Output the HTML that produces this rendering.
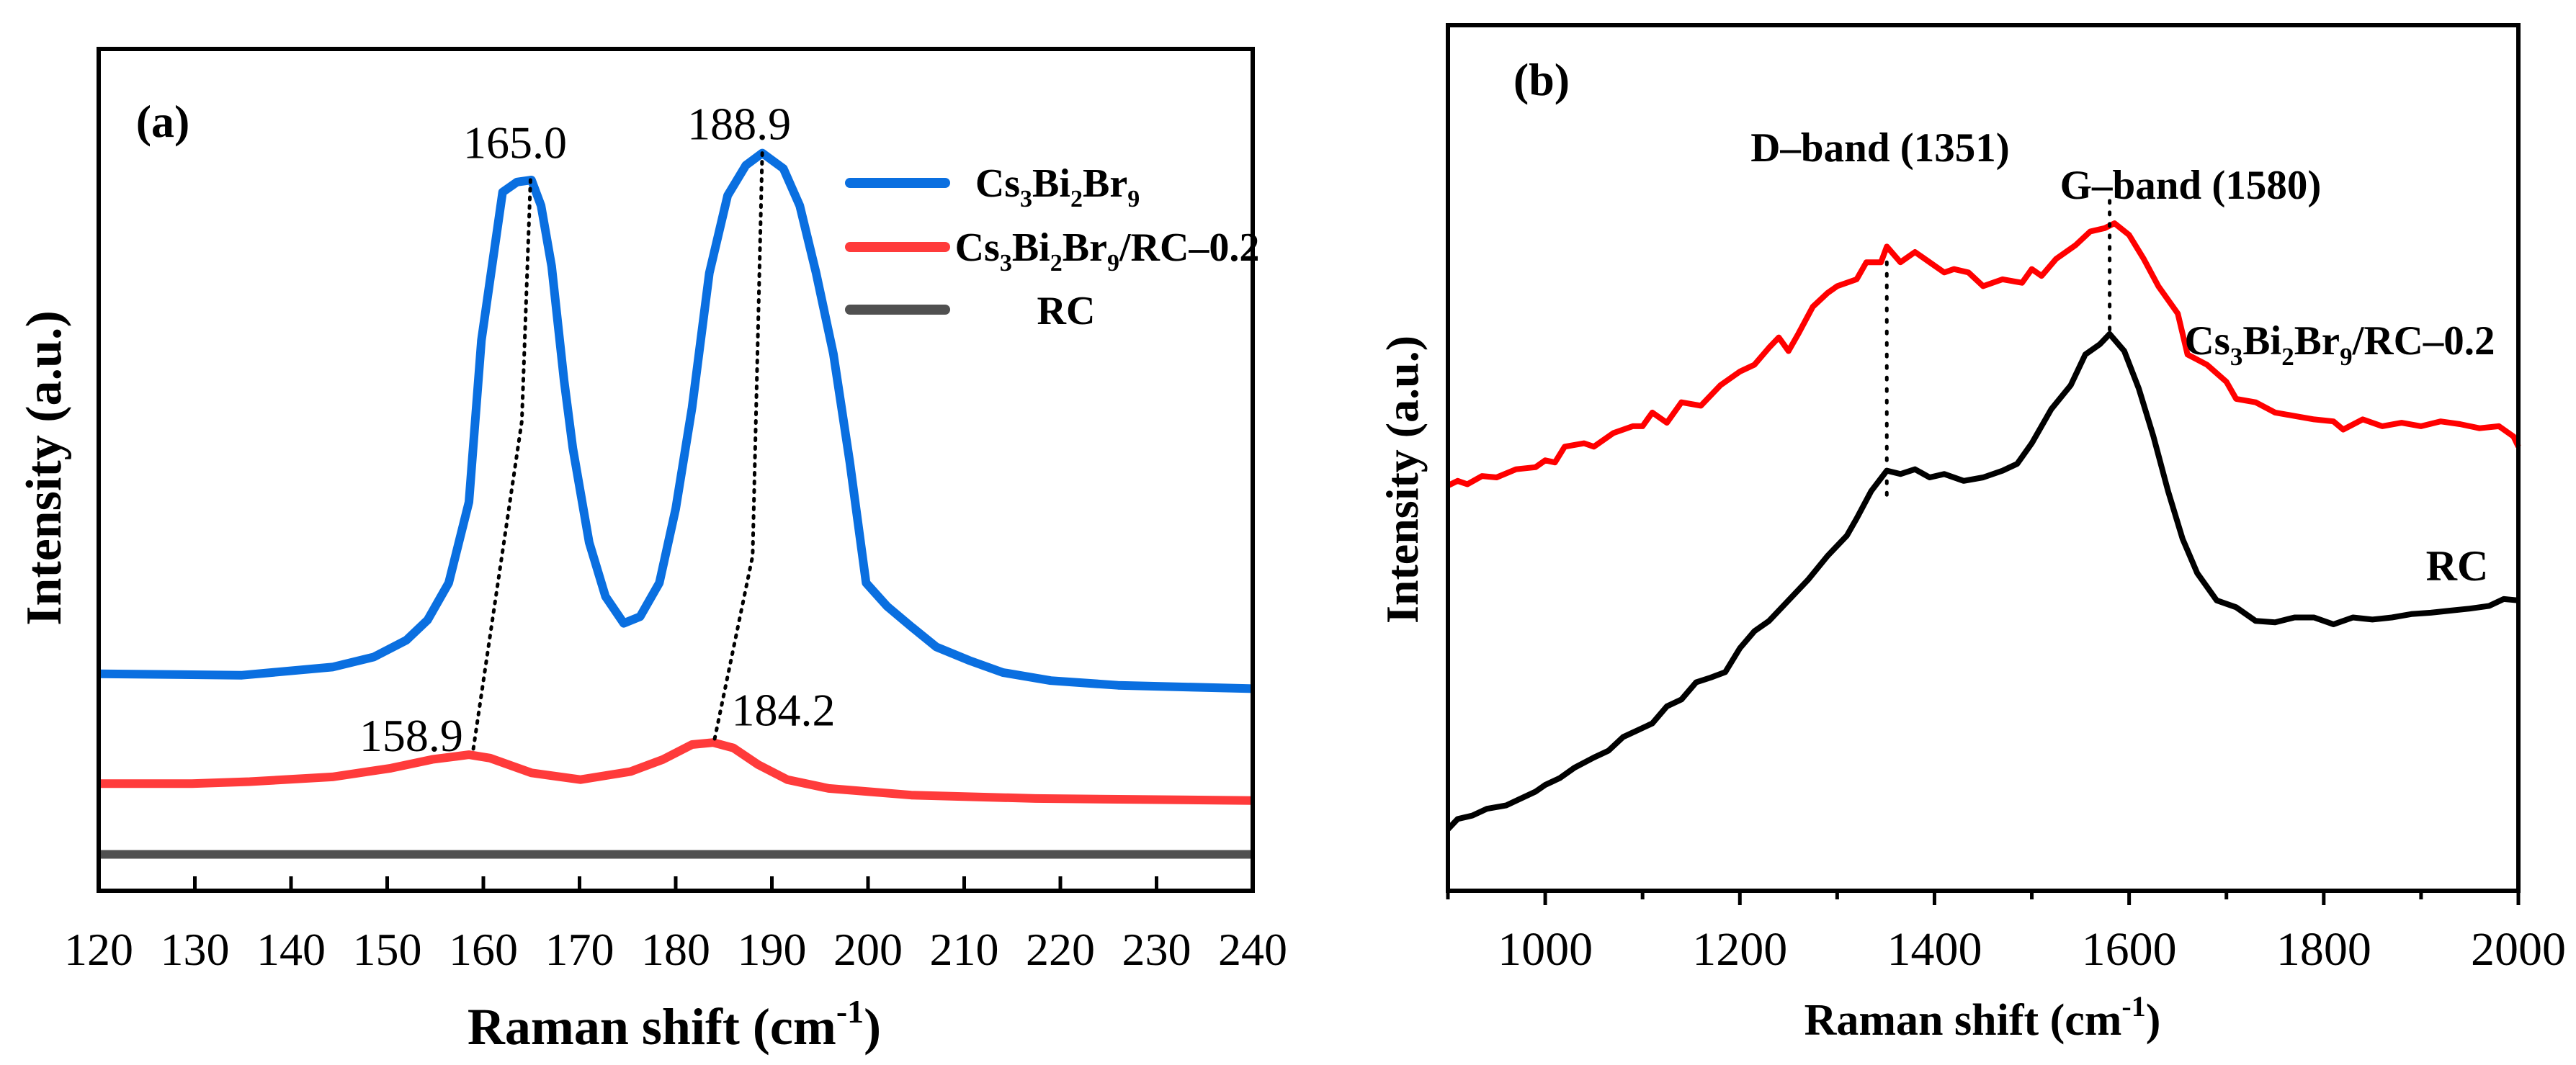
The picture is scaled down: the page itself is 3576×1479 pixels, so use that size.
<!DOCTYPE html>
<html><head><meta charset="utf-8"><style>
html,body{margin:0;padding:0;background:#fff;}
svg{display:block;font-family:"Liberation Serif",serif;}
</style></head><body>
<svg id="chart" width="3576" height="1479" viewBox="0 0 3576 1479" xmlns="http://www.w3.org/2000/svg">
<g id="pa"></g>
<g id="pb"></g>
</svg>
<script>
// ---- Panel (a) data ----
const aBlueX=[120,134.9,144.3,148.6,152,154.2,156.4,158.5,159.8,162,163.5,165,166,167.1,168.4,169.3,171,172.7,174.6,176.3,178.3,180,181.7,183.5,185.4,187.3,189,191.2,192.9,194.6,196.4,198.1,199.8,202,204.5,207.1,210.5,214,219,226,240];
const aBlueY=[995,997,985,970,945,915,860,740,500,280,265,262,300,390,560,660,800,880,920,910,860,750,600,400,285,240,222,245,300,400,520,680,860,895,925,955,975,993,1005,1012,1017];
const aRedX=[120,129.7,135.7,144.3,150.4,154.7,158.5,160.7,165,170.1,175.3,178.7,181.7,183.9,186,188.6,191.6,195.9,204.5,217.4,240];
const aRedY=[1158,1158,1155,1148,1135,1122,1115,1120,1142,1152,1140,1122,1100,1097,1105,1130,1152,1165,1175,1180,1183];
const aGrayX=[120,240];
const aGrayY=[1263,1263];
const aTicks=[120,130,140,150,160,170,180,190,200,210,220,230,240];
const aPeaks=[["165.0",163.3,208],["188.9",186.6,180],["158.9",152.5,1088],["184.2",191.2,1050]];
// ---- Panel (b) data ----
const bRedX=[900,910,920,935,950,970,990,1000,1010,1020,1040,1050,1070,1090,1100,1110,1125,1140,1160,1170,1180,1200,1215,1230,1240,1250,1260,1275,1290,1300,1320,1330,1345,1351,1365,1380,1395,1410,1420,1435,1450,1470,1490,1500,1510,1525,1545,1560,1575,1585,1600,1615,1630,1650,1660,1680,1700,1710,1730,1750,1770,1790,1810,1820,1840,1860,1880,1900,1920,1940,1960,1980,1995,2000];
const bRedY=[712,705,710,698,700,688,685,675,678,655,650,655,635,625,625,605,620,590,595,580,565,545,535,510,495,515,490,450,430,420,410,385,385,362,385,370,385,400,395,400,420,410,415,395,405,380,360,340,335,328,345,380,420,460,520,535,560,585,590,605,610,615,618,630,615,625,620,625,618,622,628,625,640,655];
const bBlkX=[900,910,925,940,960,975,990,1000,1015,1030,1050,1065,1080,1095,1110,1125,1140,1155,1170,1185,1200,1215,1230,1250,1270,1290,1310,1320,1335,1351,1365,1380,1395,1410,1430,1450,1470,1485,1500,1520,1540,1555,1570,1580,1595,1610,1625,1640,1655,1670,1690,1710,1730,1750,1770,1790,1810,1830,1850,1870,1890,1910,1930,1950,1970,1985,2000];
const bBlkY=[1215,1200,1195,1185,1180,1170,1160,1150,1140,1125,1110,1100,1080,1070,1060,1035,1025,1000,993,985,950,925,910,880,850,815,785,760,720,690,695,688,700,695,705,700,690,680,650,600,565,520,505,490,515,570,640,720,790,840,880,890,910,912,905,905,915,905,908,905,900,898,895,892,888,878,880];
const bTicks=[1000,1200,1400,1600,1800,2000];
const bMinor=[900,1100,1300,1500,1700,1900];

const NS="http://www.w3.org/2000/svg";
function mk(parent,tag,attrs,text){const e=document.createElementNS(NS,tag);for(const k in attrs)e.setAttribute(k,attrs[k]);if(text!==undefined)e.textContent=text;parent.appendChild(e);return e;}

// Panel a geometry
const A={l:137,r:1739,t:68,b:1237};
const ax=v=>A.l+(v-120)/120*(A.r-A.l);
const ay=z=>68.5+0.9356*(z-68);
const pa=document.getElementById('pa');
function polyA(xs,ys,color,name){
  const pts=xs.map((x,i)=>ax(x).toFixed(1)+','+ay(ys[i]).toFixed(1)).join(' ');
  const p=mk(pa,'polyline',{points:pts,fill:'none',stroke:color,'stroke-width':12,'stroke-linejoin':'round'});
  
  
}
polyA(aGrayX,aGrayY,'#505050','rc-line');
polyA(aRedX,aRedY,'#ff3b3b','composite-line');
polyA(aBlueX,aBlueY,'#0a6fe0','cs3bi2br9-line');
[[[164.9,262],[164,620],[158.9,1112]],[[189,222],[188,820],[184,1095]]].forEach((seg,i)=>{
  const d=mk(pa,'polyline',{points:seg.map(s=>ax(s[0])+','+ay(s[1])).join(' '),fill:'none',stroke:'#000','stroke-width':5,'stroke-dasharray':'3 9','stroke-linecap':'round'});
  
  
});
aPeaks.forEach(p=>{
  const t=mk(pa,'text',{x:ax(p[1]),y:ay(p[2])+20,'font-size':64,'text-anchor':'middle'},p[0]);
  
  
});
const fa=mk(pa,'rect',{x:A.l,y:A.t,width:A.r-A.l,height:A.b-A.t,fill:'none',stroke:'#000','stroke-width':6});


aTicks.forEach(v=>{
  mk(pa,'line',{x1:ax(v),x2:ax(v),y1:A.b,y2:A.b-20,stroke:'#000','stroke-width':5});
  const t=mk(pa,'text',{x:ax(v),y:1340,'font-size':64,'text-anchor':'middle'},String(v));
  
  
});
const legColors=['#0a6fe0','#ff3b3b','#505050'];
const legY=[254,343,430];
const legG=mk(pa,'g',{});


legColors.forEach((c,i)=>{
  mk(legG,'line',{x1:1180,x2:1312,y1:legY[i],y2:legY[i],stroke:c,'stroke-width':14,'stroke-linecap':'round'});
});
pa.insertAdjacentHTML('beforeend',
 '<text x="1468" y="273" font-size="56" font-weight="bold" text-anchor="middle">Cs<tspan font-size="34" dy="14">3</tspan><tspan dy="-14">Bi</tspan><tspan font-size="34" dy="14">2</tspan><tspan dy="-14">Br</tspan><tspan font-size="34" dy="14">9</tspan></text>'+
 '<text x="1537" y="362" font-size="56" font-weight="bold" text-anchor="middle">Cs<tspan font-size="34" dy="14">3</tspan><tspan dy="-14">Bi</tspan><tspan font-size="34" dy="14">2</tspan><tspan dy="-14">Br</tspan><tspan font-size="34" dy="14">9</tspan><tspan dy="-14">/RC–0.2</tspan></text>'+
 '<text x="1480" y="450" font-size="56" font-weight="bold" text-anchor="middle">RC</text>'+
 '<text x="226" y="190" font-size="64" font-weight="bold" text-anchor="middle">(a)</text>'+
 '<text x="936" y="1450" font-size="72" font-weight="bold" text-anchor="middle">Raman shift  (cm<tspan font-size="46" dy="-30">-1</tspan><tspan dy="30">)</tspan></text>'+
 '<text transform="translate(84,650) rotate(-90)" font-size="70" font-weight="bold" text-anchor="middle">Intensity (a.u.)</text>');

// Panel b
const B={l:2010,r:3496,t:35,b:1237};
const bx=v=>B.l+(v-900)/1100*(B.r-B.l);
const by=z=>B.t+(z-38)*(B.b-B.t)/(1305-38);
const pb=document.getElementById('pb');
function polyB(xs,ys,color,name){
  const pts=xs.map((x,i)=>bx(x).toFixed(1)+','+by(ys[i]).toFixed(1)).join(' ');
  const p=mk(pb,'polyline',{points:pts,fill:'none',stroke:color,'stroke-width':8,'stroke-linejoin':'round'});
  
  
}
polyB(bRedX,bRedY,'#ff0000','composite-spectrum');
polyB(bBlkX,bBlkY,'#000000','rc-spectrum');
[[1351,385,730],[1580,295,490]].forEach((g,i)=>{
  const d=mk(pb,'line',{x1:bx(g[0]),x2:bx(g[0]),y1:by(g[1]),y2:by(g[2]),stroke:'#000','stroke-width':5,'stroke-dasharray':'3 13','stroke-linecap':'round'});
  
  
});
const fb=mk(pb,'rect',{x:B.l,y:B.t,width:B.r-B.l,height:B.b-B.t,fill:'none',stroke:'#000','stroke-width':6});


bTicks.forEach(v=>{
  mk(pb,'line',{x1:bx(v),x2:bx(v),y1:B.b,y2:B.b+20,stroke:'#000','stroke-width':5});
  const t=mk(pb,'text',{x:bx(v),y:1340,'font-size':66,'text-anchor':'middle'},String(v));
  
  
});
bMinor.forEach(v=>{mk(pb,'line',{x1:bx(v),x2:bx(v),y1:B.b,y2:B.b+12,stroke:'#000','stroke-width':5});});
pb.insertAdjacentHTML('beforeend',
 '<text x="2140" y="132" font-size="64" font-weight="bold" text-anchor="middle">(b)</text>'+
 '<text x="2610" y="224" font-size="57" font-weight="bold" text-anchor="middle">D–band (1351)</text>'+
 '<text x="3041" y="276" font-size="57" font-weight="bold" text-anchor="middle">G–band (1580)</text>'+
 '<text x="3248" y="492" font-size="57" font-weight="bold" text-anchor="middle">Cs<tspan font-size="35" dy="15">3</tspan><tspan dy="-15">Bi</tspan><tspan font-size="35" dy="15">2</tspan><tspan dy="-15">Br</tspan><tspan font-size="35" dy="15">9</tspan><tspan dy="-15">/RC–0.2</tspan></text>'+
 '<text x="3411" y="806" font-size="60" font-weight="bold" text-anchor="middle">RC</text>'+
 '<text x="2752" y="1437" font-size="62" font-weight="bold" text-anchor="middle">Raman shift (cm<tspan font-size="40" dy="-26">-1</tspan><tspan dy="26">)</tspan></text>'+
 '<text transform="translate(1968,666) rotate(-90)" font-size="64" font-weight="bold" text-anchor="middle">Intensity (a.u.)</text>');
</script>
</body></html>
